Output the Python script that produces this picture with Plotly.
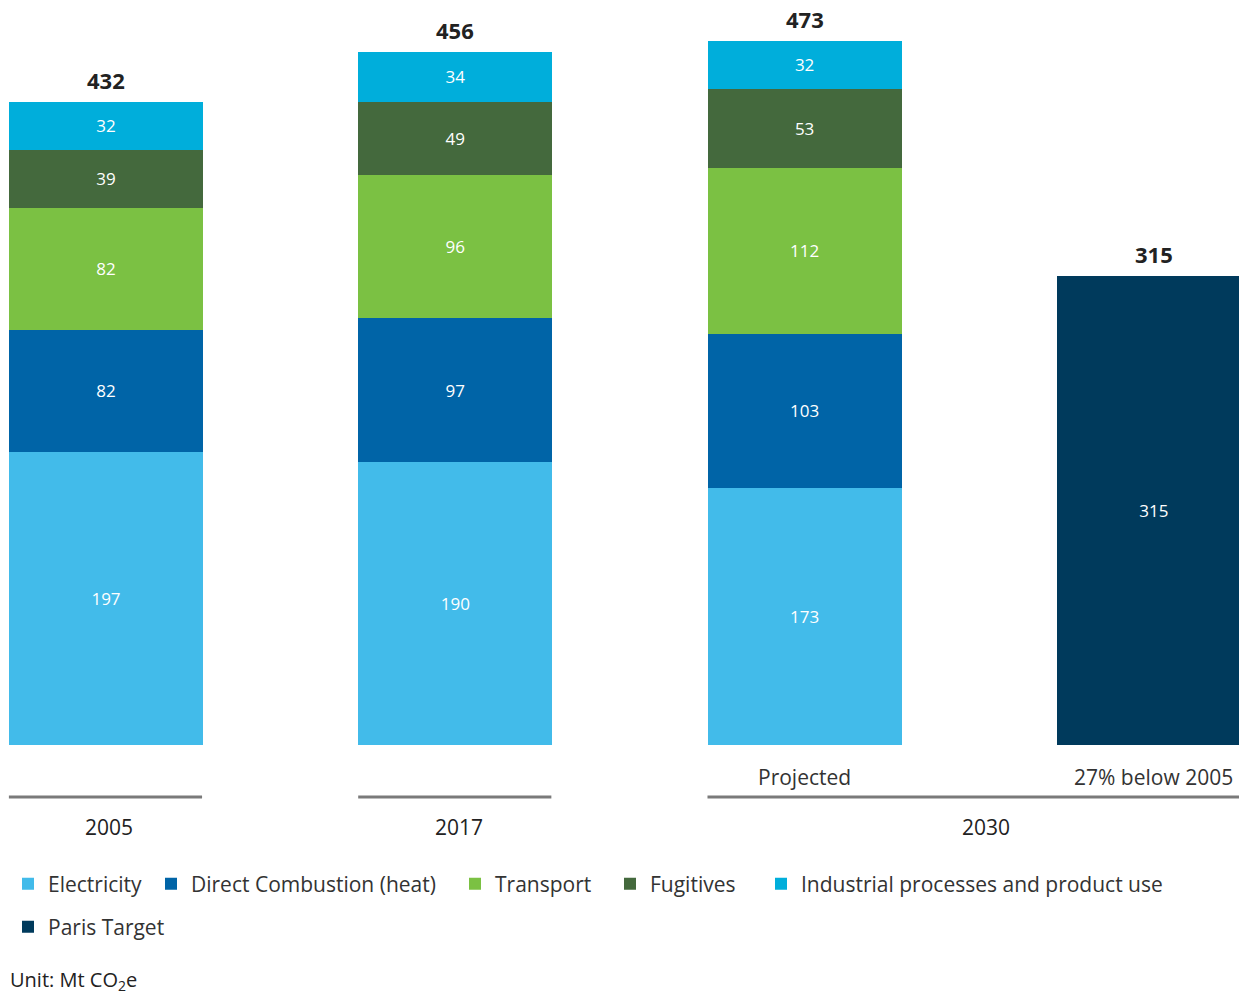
import plotly.graph_objects as go

categories = ["2005", "2017", "2030 Projected", "2030 Paris Target"]
electricity = [197, 190, 173, None]
direct_combustion = [82, 97, 103, None]
transport = [82, 96, 112, None]
fugitives = [39, 49, 53, None]
industrial = [32, 34, 32, None]
paris_target = [None, None, None, 315]
totals = [432, 456, 473, 315]
sub_labels = ["", "", "Projected", "27% below 2005"]
groups = [("2005", 0, 0), ("2017", 1, 1), ("2030", 2, 3)]

# (name, values, colour, legend text start px in window, legend row centre px)
series = [
    ("Electricity", electricity, "#42BBEA", 38, 884),
    ("Direct Combustion (heat)", direct_combustion, "#0064A7", 191, 884),
    ("Transport", transport, "#7BC143", 495, 884),
    ("Fugitives", fugitives, "#44693D", 650, 884),
    ("Industrial processes and product use", industrial, "#00AEDB", 801, 884),
    ("Paris Target", paris_target, "#003A5C", 38, 927),
]

FONT = "Open Sans"
TXT = "#333333"
OFF = 8                      # page body margin
W, H = 1247 - 2 * OFF, 1003 - 2 * OFF
BASE = 745                   # baseline in window pixels
PLOT_H = BASE - OFF
PX_PER_UNIT = 1.488
CAT0, CAT_STEP = 106, 349.3  # window px of first category centre and spacing
BAR_W = 0.555
XR = [(OFF - CAT0) / CAT_STEP, (OFF + W - CAT0) / CAT_STEP]
YMAX = PLOT_H / PX_PER_UNIT


def py(pix):
    return (BASE - pix) / PLOT_H


def px(pix):
    return (pix - OFF) / W


fig = go.Figure()
legend_layouts = {}
for k, (name, vals, color, tx, ty) in enumerate(series):
    leg = "legend" if k == 0 else f"legend{k + 1}"
    fig.add_trace(go.Bar(
        x=categories, y=vals, name=name, width=BAR_W,
        marker=dict(color=color, line=dict(width=0)),
        texttemplate="%{y}", textposition="inside", insidetextanchor="middle",
        textangle=0, constraintext="none",
        textfont=dict(color="white", size=17, family=FONT),
        legend=leg, showlegend=True, hoverinfo="name+y",
    ))
    legend_layouts[leg] = dict(
        orientation="h", x=max(0.0, px(tx - 40)), xanchor="left", y=py(ty), yanchor="middle",
        font=dict(size=21, color=TXT, family=FONT), bgcolor="rgba(0,0,0,0)",
    )

stack = []
for i in range(len(categories)):
    s = 0
    for _, vals, _, _, _ in series:
        if vals[i] is not None:
            s += vals[i]
    stack.append(s)

annotations = []
for i, (t, s) in enumerate(zip(totals, stack)):
    annotations.append(dict(x=i, y=s, xref="x", yref="y", text=f"<b>{t}</b>",
                            showarrow=False, yanchor="middle", yshift=22,
                            font=dict(size=22, color="#222222", family=FONT)))
    if sub_labels[i]:
        annotations.append(dict(x=i, y=py(777), xref="x", yref="paper", text=sub_labels[i],
                                showarrow=False, yanchor="middle",
                                font=dict(size=21, color=TXT, family=FONT)))

shapes = []
for label, a, b in groups:
    x0 = max(a - 0.278, XR[0])
    x1 = min(b + 0.275, XR[1])
    shapes.append(dict(type="line", xref="x", yref="paper", x0=x0, x1=x1,
                       y0=py(797), y1=py(797), line=dict(color="#7a7a7a", width=3)))
    annotations.append(dict(x=(a + b) / 2 + 0.01 + 0.01 * (b - a), y=py(827), xref="x", yref="paper",
                            text=label, showarrow=False, yanchor="middle",
                            font=dict(size=21, color="#222222", family=FONT)))

annotations.append(dict(x=px(8), y=py(980), xref="paper", yref="paper",
                        text="Unit: Mt CO<sub>2</sub>e", showarrow=False,
                        xanchor="left", yanchor="middle",
                        font=dict(size=20, color="#222222", family=FONT)))

fig.update_layout(
    width=W, height=H,
    margin=dict(l=0, r=0, t=0, b=H - PLOT_H, pad=0),
    barmode="stack",
    showlegend=True,
    plot_bgcolor="white", paper_bgcolor="white",
    font=dict(family=FONT, color=TXT),
    xaxis=dict(range=XR, showticklabels=False, showgrid=False, zeroline=False,
               showline=False, ticks=""),
    yaxis=dict(range=[0, YMAX], visible=False),
    annotations=annotations, shapes=shapes,
    **legend_layouts,
)

fig.write_html("out.html")
